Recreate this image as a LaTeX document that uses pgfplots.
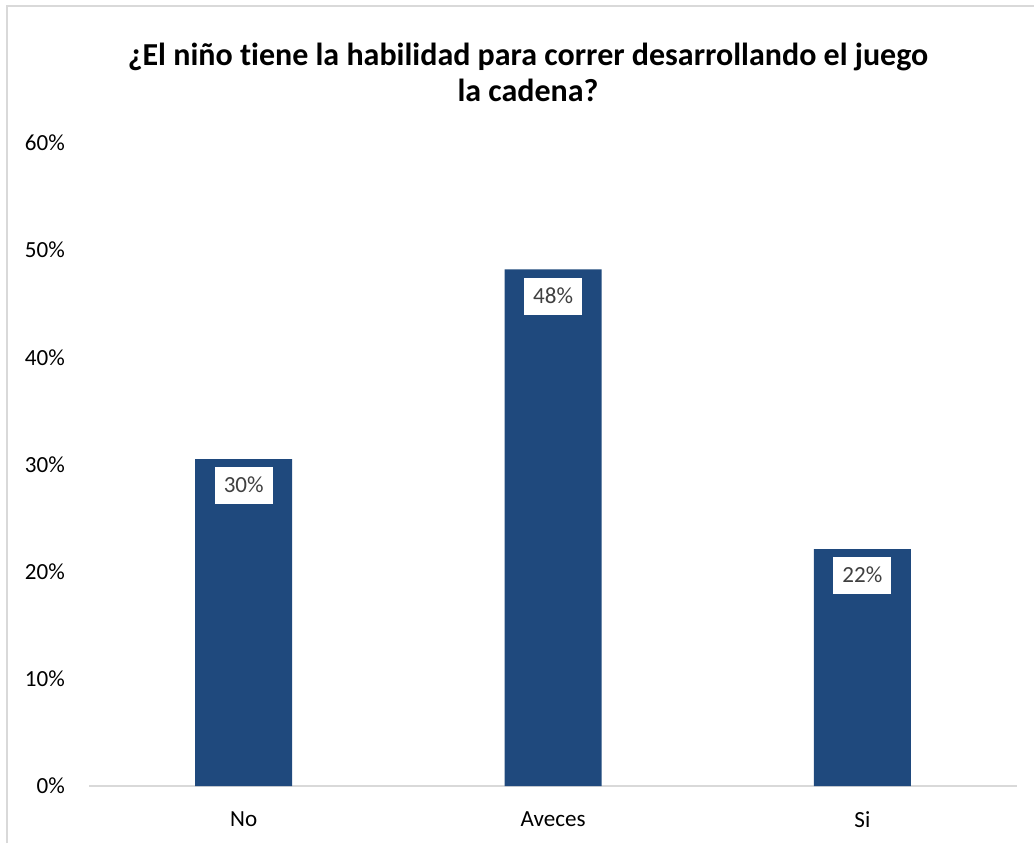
\documentclass[border=0pt]{standalone}
\usepackage{fontspec}
\setmainfont{Carlito}[Ligatures=NoCommon]
\usepackage{pgfplots}
\pgfplotsset{compat=1.18}
\definecolor{barblue}{RGB}{31,73,125}
\definecolor{labgray}{RGB}{64,64,64}
\definecolor{frame}{RGB}{217,217,217}
\begin{document}
\begin{tikzpicture}
% page = 1034 x 843 px, 1px = 0.75pt, y counted down from the top
\path[use as bounding box] (0,0) rectangle (775.5pt,-632.25pt);
\draw[frame, line width=1.5pt] (5.25pt,-632.25pt) -- (5.25pt,-4.5pt) -- (775.5pt,-4.5pt);
\node[font=\fontsize{24}{27}\selectfont\bfseries, align=center, anchor=north]
  at (396pt,-29pt) {¿El niño tiene la habilidad para correr desarrollando el juego\\la cadena?};
\begin{axis}[
    at={(182.8pt,-589.5pt)}, anchor=origin,
    scale only axis,
    width=696pt, height=482.25pt,
    xmin=-0.5, xmax=2.5,
    ymin=0, ymax=60,
    axis x line*=bottom,
    axis y line*=left,
    x axis line style={frame, line width=1.5pt, -},
    y axis line style={draw=none},
    xtick={0,1,2},
    xticklabels={No,Aveces,Si},
    ytick={0,10,20,30,40,50,60},
    yticklabels={0\%,10\%,20\%,30\%,40\%,50\%,60\%},
    major tick length=0pt,
    tick label style={font=\fontsize{17.3}{20}\selectfont},
    xticklabel style={anchor=north, inner sep=0pt, yshift=-19pt},
    yticklabel style={anchor=east, inner sep=0pt, xshift=-18pt},
    clip=false,
    ybar,
    bar width=72.75pt,
    point meta=explicit symbolic,
    nodes near coords,
    nodes near coords style={
        anchor=north, yshift=-6pt, fill=white, text=labgray,
        font=\fontsize{17.3}{20}\selectfont,
        inner xsep=6.8pt, text height=12.5pt, text depth=2pt, inner ysep=6.6pt
    },
]
\addplot[fill=barblue, draw=none] coordinates {(0,30.5) [30\%] (1,48.2) [48\%] (2,22.1) [22\%]};
\end{axis}
\end{tikzpicture}
\end{document}
